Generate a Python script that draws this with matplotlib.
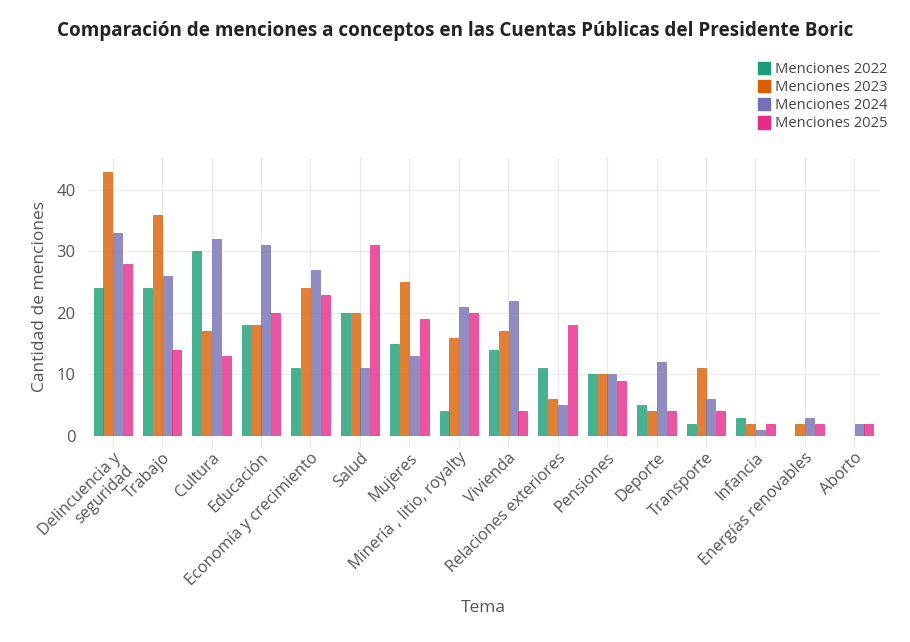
import numpy as np
import matplotlib
matplotlib.use('Agg')
import matplotlib.pyplot as plt

plt.rcParams['font.family'] = ['Open Sans', 'DejaVu Sans']

temas = ["Delincuencia y\nseguridad", "Trabajo", "Cultura", "Educación",
         "Economía y crecimiento", "Salud", "Mujeres", "Minería , litio, royalty",
         "Vivienda", "Relaciones exteriores", "Pensiones", "Deporte",
         "Transporte", "Infancia", "Energías renovables", "Aborto"]

m2022 = [24, 24, 30, 18, 11, 20, 15, 4, 14, 11, 10, 5, 2, 3, 0, 0]
m2023 = [43, 36, 17, 18, 24, 20, 25, 16, 17, 6, 10, 4, 11, 2, 2, 0]
m2024 = [33, 26, 32, 31, 27, 11, 13, 21, 22, 5, 10, 12, 6, 1, 3, 2]
m2025 = [28, 14, 13, 20, 23, 31, 19, 20, 4, 18, 9, 4, 4, 2, 2, 2]

series = [("Menciones 2022", m2022, "#1b9e77"),
          ("Menciones 2023", m2023, "#d95f02"),
          ("Menciones 2024", m2024, "#7570b3"),
          ("Menciones 2025", m2025, "#e7298a")]


def main():
    fig = plt.figure(figsize=(9.1, 6.42), dpi=100)
    ax = fig.add_axes([88/910, 1 - 436/642, (879-88)/910, (436-158)/642])

    x = np.arange(len(temas))
    w = 0.198
    for i, (name, vals, col) in enumerate(series):
        ax.bar(x + (i - 1.5) * w, vals, width=w * 0.92, color=col, alpha=0.8,
               edgecolor=col, linewidth=0.6, label=name, zorder=3)

    ax.set_xlim(-0.5, len(temas) - 0.5)
    ax.set_ylim(0, 45.2)
    ax.set_yticks([0, 10, 20, 30, 40])
    ax.set_xticks(x)
    ax.set_xticklabels(temas, rotation=45, ha='right', rotation_mode='anchor',
                       ma='right', fontsize=11.7, color='#555555',
                       linespacing=1.15)
    ax.tick_params(axis='y', length=0, pad=9, labelsize=12, labelcolor='#555555')
    ax.tick_params(axis='x', length=8, color='#ebebeb', width=1, pad=2)
    ax.grid(True, color='#ebebeb', linewidth=1, zorder=0)
    for s in ax.spines.values():
        s.set_visible(False)

    ax.set_ylabel("Cantidad de menciones", fontsize=12.5, color='#555555', labelpad=6)
    ax.set_xlabel("Tema", fontsize=12.5, color='#555555', labelpad=8)

    fig.text(455/910, 1 - 31/642, "Comparación de menciones a conceptos en las Cuentas Públicas del Presidente Boric",
             ha='center', va='center', fontsize=13.6, fontweight='bold', color='#222222')

    handles = [plt.Rectangle((0, 0), 1, 1, color=c) for _, _, c in series]
    leg = fig.legend(handles, [n for n, _, _ in series], loc='upper right',
                     bbox_to_anchor=(893/910, 1 - 56/642), frameon=False,
                     fontsize=10.6, handlelength=0.8, handleheight=0.9,
                     handletextpad=0.3, labelspacing=0.2, borderaxespad=0)
    for t in leg.get_texts():
        t.set_color('#444444')

    fig.savefig("out.png", dpi=100)


if __name__ == "__main__":
    main()
